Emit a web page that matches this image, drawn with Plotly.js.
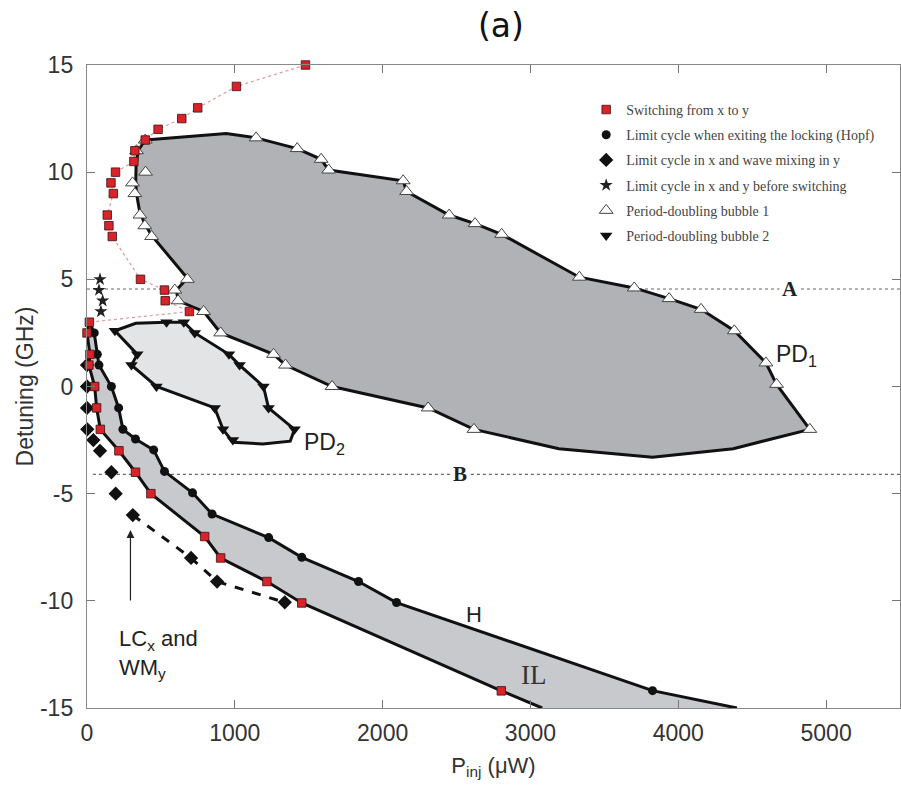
<!DOCTYPE html>
<html>
<head>
<meta charset="utf-8">
<script src="https://cdn.plot.ly/plotly-3.0.1.min.js"></script>
<style>html,body{margin:0;padding:0;background:#fff;}#chart{width:901px;height:794px;}</style>
</head>
<body>
<div id="chart"></div>
<script>
// ---- Switching from x to y (red squares) ----
var switchX = [1478,1011,749,641,481,394,324,317,193,162,178,137,148,171,362,524,529,693,16,0,20,13,52,65,90,216,328,432,796,904,1217,1453,2803];
var switchY = [15,14,13,12.5,12,11.5,11,10.5,10,9.5,9,8,7.5,7,5,4.5,4,3.5,3,2.5,1.5,1,0,-1,-2,-3,-4,-5,-7,-8,-9.1,-10.1,-14.2];
var switchDottedCount = 19;

// ---- Limit cycle when exiting locking (Hopf, circles) ----
var hopfX = [49,70,81,165,214,243,328,451,524,714,846,1229,1453,1837,2094,3826];
var hopfY = [2.5,1.5,1,0,-1,-2,-2.45,-2.96,-3.96,-4.96,-5.95,-7.05,-7.97,-9.1,-10.08,-14.19];

// ---- Locking region boundaries ----
var ilLeftX = [16,0,20,13,52,65,90,216,328,432,796,904,1217,1453,2803,3079];
var ilLeftY = [3,2.5,1.5,1,0,-1,-2,-3,-4,-5,-7,-8,-9.1,-10.1,-14.2,-15];
var ilRightX = [16,49,70,81,165,214,243,328,451,524,714,846,1229,1453,1837,2094,3826,4397];
var ilRightY = [3,2.5,1.5,1,0,-1,-2,-2.45,-2.96,-3.96,-4.96,-5.95,-7.05,-7.97,-9.1,-10.08,-14.19,-15];

// ---- Limit cycle in x and wave mixing in y (diamonds) ----
var wmX = [0,0,0,2,43,88,165,194,310,704,880,1338];
var wmY = [1,0,-1,-2,-2.5,-3,-4,-5,-6,-8,-9.1,-10.07];
var wmDashStart = 8;

// ---- Limit cycle in x and y before switching (stars) ----
var starX = [88,81,106,94];
var starY = [5,4.5,4,3.5];

// ---- Period-doubling bubble 1 (white triangles) ----
var pd1X = [394,335,1144,1422,1584,1635,2139,2162,2450,2625,2805,3331,3702,3938,4154,4379,4593,4665,4890,2618,2308,1658,1343,1262,904,789,616,594,679,437,391,358,324,308,396];
var pd1Y = [11.5,11,11.6,11.1,10.6,10.1,9.6,9.1,8,7.6,7.1,5.1,4.6,4.1,3.6,2.6,1.1,0.1,-2,-2,-1,0,1,1.5,2.5,3.5,4,4.5,5,7,7.5,8,9,9.5,10];
var pd1BX = [394,942,1144,1422,1584,1635,2139,2162,2450,2625,2805,3331,3702,3938,4154,4379,4593,4665,4890,4372,3826,3192,2618,2308,1658,1343,1262,904,789,616,605,679,437,390,355,335,330,332,345,394];
var pd1BY = [11.5,11.8,11.6,11.1,10.6,10.1,9.6,9.1,8,7.6,7.1,5.1,4.6,4.1,3.6,2.6,1.1,0.1,-2,-2.9,-3.3,-2.9,-2,-1,0,1,1.5,2.5,3.5,4,4.5,5.05,7.05,7.6,8.2,9,9.6,10.3,11,11.5];

// ---- Period-doubling bubble 2 (black down triangles) ----
var pd2X = [189,538,655,729,960,1032,1194,1228,1404,987,920,864,470,301,340];
var pd2Y = [2.6,3,3,2.5,1.5,1,0,-1,-2,-2.5,-2,-1,0,1,1.5];
var pd2BX = [189,330,538,655,729,960,1032,1194,1228,1404,1375,1190,987,920,864,470,301,340,189];
var pd2BY = [2.6,2.95,3,3,2.5,1.5,1,0,-1,-2,-2.55,-2.68,-2.6,-2,-1,0,1,1.5,2.6];

// ---- Reference detuning lines ----
var lineAY = 4.55, lineBY = -4.1;
var xTicks = [0,1000,2000,3000,4000,5000];
var yTicks = [-15,-10,-5,0,5,10,15];

var legendNames = ["Switching from x to y","Limit cycle when exiting the locking (Hopf)","Limit cycle in x and wave mixing in y","Limit cycle in x and y before switching","Period-doubling bubble 1","Period-doubling bubble 2"];

var ilFillX = ilLeftX.concat(ilRightX.slice().reverse());
var ilFillY = ilLeftY.concat(ilRightY.slice().reverse());

var traces = [
  {x:[0,5500], y:[lineAY,lineAY], mode:'lines', line:{color:'#666',width:1.2,dash:'dot'}, showlegend:false, hoverinfo:'skip'},
  {x:[40,5500], y:[lineBY,lineBY], mode:'lines', line:{color:'#666',width:1.2,dash:'dot'}, showlegend:false, hoverinfo:'skip'},
  {x:ilFillX, y:ilFillY, mode:'lines', fill:'toself', fillcolor:'#c8c9cc', line:{width:0}, showlegend:false, hoverinfo:'skip'},
  {x:pd1BX, y:pd1BY, mode:'lines', fill:'toself', fillcolor:'#b1b2b5', line:{color:'#111',width:3}, showlegend:false, hoverinfo:'skip'},
  {x:pd2BX, y:pd2BY, mode:'lines', fill:'toself', fillcolor:'#e3e4e6', line:{color:'#111',width:3}, showlegend:false, hoverinfo:'skip'},
  {x:ilLeftX, y:ilLeftY, mode:'lines', line:{color:'#111',width:3}, showlegend:false, hoverinfo:'skip'},
  {x:ilRightX, y:ilRightY, mode:'lines', line:{color:'#111',width:3}, showlegend:false, hoverinfo:'skip'},
  {x:switchX.slice(0,switchDottedCount), y:switchY.slice(0,switchDottedCount), mode:'lines', line:{color:'#d89a9a',width:1.2,dash:'dot'}, showlegend:false, hoverinfo:'skip'},
  {x:wmX.slice(wmDashStart), y:wmY.slice(wmDashStart), mode:'lines', line:{color:'#111',width:3,dash:'dash'}, showlegend:false, hoverinfo:'skip'},
  {x:pd1X, y:pd1Y, mode:'markers', name:legendNames[4], legendrank:5, legendgroup:'g5', cliponaxis:false,
   marker:{symbol:'triangle-up', size:12, color:'#ffffff', line:{color:'#444',width:1}}},
  {x:pd2X, y:pd2Y, mode:'markers', name:legendNames[5], legendrank:6, legendgroup:'g6', cliponaxis:false,
   marker:{symbol:'triangle-down', size:11, color:'#111', line:{width:0}}},
  {x:hopfX, y:hopfY, mode:'markers', name:legendNames[1], legendrank:2, legendgroup:'g2', cliponaxis:false,
   marker:{symbol:'circle', size:9, color:'#111', line:{width:0}}},
  {x:wmX, y:wmY, mode:'markers', name:legendNames[2], legendrank:3, legendgroup:'g3', cliponaxis:false,
   marker:{symbol:'diamond', size:11, color:'#111', line:{width:0}}},
  {x:starX, y:starY, mode:'markers', name:legendNames[3], legendrank:4, legendgroup:'g4', cliponaxis:false,
   marker:{symbol:'star', size:10, color:'#222', line:{width:0}}},
  {x:switchX, y:switchY, mode:'markers', name:legendNames[0], legendrank:1, legendgroup:'g1', cliponaxis:false,
   marker:{symbol:'square', size:8.5, color:'#d8232a', line:{color:'#3a1010',width:0.8}}}
];

var axisFont = {family:'Liberation Sans, Arial, sans-serif', size:23, color:'#333'};
var layout = {
  width:901, height:794,
  margin:{l:87, r:1, t:65, b:86},
  paper_bgcolor:'#fff', plot_bgcolor:'#fff',
  title:{text:'(a)', x:0.556, xref:'container', xanchor:'center', y:0.968, yref:'container', yanchor:'middle',
         font:{family:'DejaVu Sans, sans-serif', size:33, color:'#111'}},
  xaxis:{range:[0,5500], tickvals:xTicks, ticktext:xTicks.map(String), ticks:'inside', ticklen:8, tickcolor:'#777',
         showline:true, linecolor:'#888', linewidth:1.2, mirror:'ticks', showgrid:false, zeroline:false,
         tickfont:axisFont, ticklabelstandoff:4,
         title:{text:'P<sub>inj</sub> (\u03bcW)', font:{family:'Liberation Sans, Arial, sans-serif', size:22, color:'#333'}, standoff:12}},
  yaxis:{range:[-15,15], tickvals:yTicks, ticktext:yTicks.map(String), ticks:'inside', ticklen:8, tickcolor:'#777',
         showline:true, linecolor:'#888', linewidth:1.2, mirror:'ticks', showgrid:false, zeroline:false,
         tickfont:axisFont, ticklabelstandoff:8,
         title:{text:'Detuning (GHz)', font:{family:'Liberation Sans, Arial, sans-serif', size:23, color:'#333'}, standoff:0}},
  showlegend:true,
  legend:{x:0.614, y:0.955, xanchor:'left', yanchor:'top', bgcolor:'rgba(255,255,255,0)', borderwidth:0,
          traceorder:'grouped', tracegroupgap:4,
          font:{family:'Liberation Serif, Times New Roman, serif', size:14, color:'#444'}},
  annotations:[
    {x:4757, y:lineAY, text:'<b>A</b>', showarrow:false, bgcolor:'#fff', borderpad:2,
     font:{family:'Liberation Serif, serif', size:21, color:'#222'}},
    {x:2524, y:lineBY, text:'<b>B</b>', showarrow:false, bgcolor:'#fff', borderpad:2,
     font:{family:'Liberation Serif, serif', size:21, color:'#222'}},
    {x:4649, y:1.45, xanchor:'left', text:'PD<sub>1</sub>', showarrow:false,
     font:{family:'Liberation Sans, Arial, sans-serif', size:23, color:'#222'}},
    {x:1457, y:-2.66, xanchor:'left', text:'PD<sub>2</sub>', showarrow:false,
     font:{family:'Liberation Sans, Arial, sans-serif', size:23, color:'#222'}},
    {x:2618, y:-10.65, text:'H', showarrow:false,
     font:{family:'Liberation Sans, Arial, sans-serif', size:22, color:'#222'}},
    {x:3023, y:-13.46, text:'IL', showarrow:false,
     font:{family:'Liberation Serif, serif', size:27, color:'#333'}},
    {x:202, y:-12.5, xanchor:'left', align:'left', text:'LC<sub>x</sub> and<br>WM<sub>y</sub>', showarrow:false,
     font:{family:'Liberation Sans, Arial, sans-serif', size:22, color:'#222'}},
    {x:294, y:-6.7, ax:294, ay:-10.05, axref:'x', ayref:'y', text:'', showarrow:true,
     arrowhead:2, arrowsize:1.3, arrowwidth:1.2, arrowcolor:'#222'}
  ]
};

Plotly.newPlot('chart', traces, layout, {displayModeBar:false, staticPlot:true});
</script>
</body>
</html>
